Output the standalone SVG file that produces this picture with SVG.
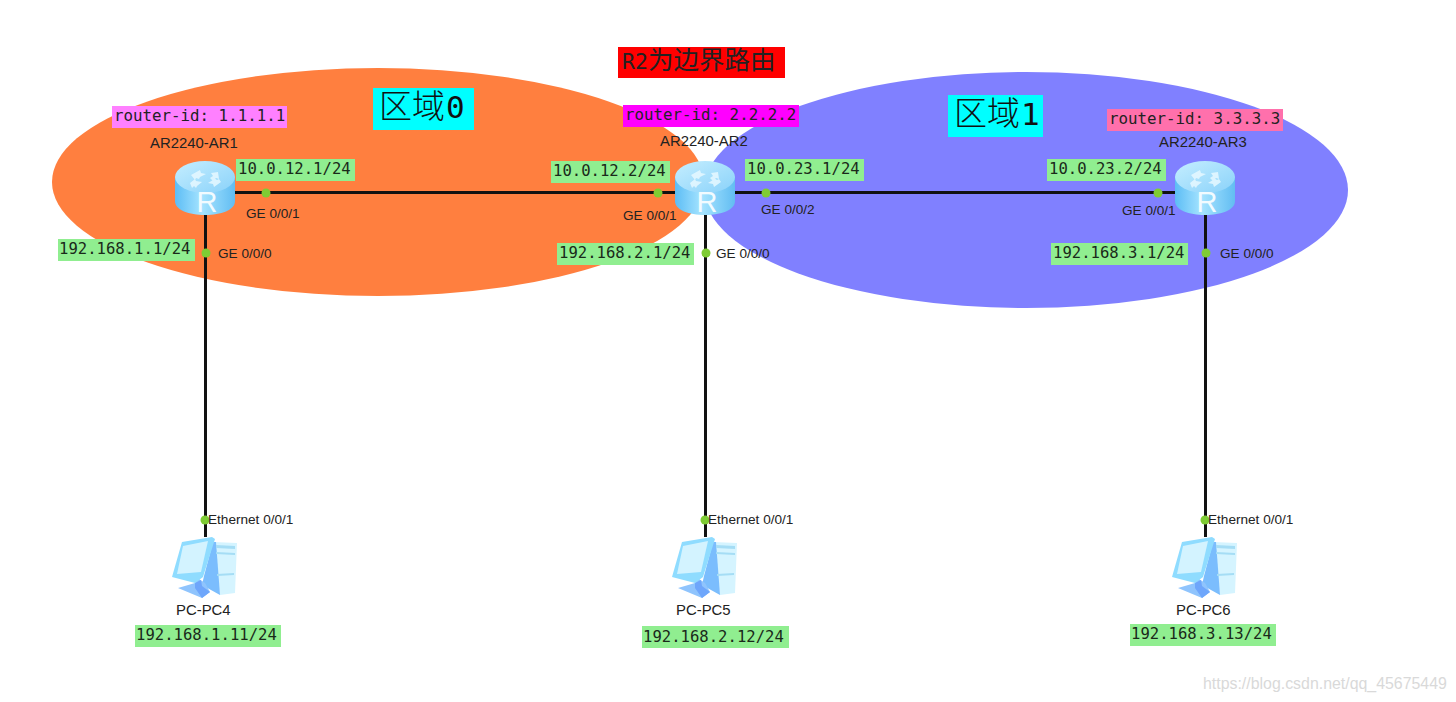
<svg xmlns="http://www.w3.org/2000/svg" width="1456" height="702" viewBox="0 0 1456 702">
<style>
text{font-family:"Liberation Sans",Arial,sans-serif;font-size:13.6px;fill:#222}
.n{font-size:14.9px}
.m{font-family:"DejaVu Sans Mono","Liberation Mono",monospace;font-size:15.6px;fill:#1a2a1a}
.m2{font-family:"DejaVu Sans Mono","Liberation Mono",monospace;font-size:15.8px;fill:#222}
.g{fill:#90EE90}
.lnk{stroke:#111;stroke-width:3;fill:none}
.dot{fill:#7FCC33}
.zone{font-family:"Noto Sans CJK SC","DejaVu Sans Mono",sans-serif;font-size:33px;font-weight:300;fill:#111}
.wm{font-size:15.9px;fill:#d9d9d9}
</style>
<defs>
<linearGradient id="rb" x1="0" x2="1" y1="0" y2="0"><stop offset="0" stop-color="#5DBDF5"/><stop offset=".45" stop-color="#A6E4FF"/><stop offset="1" stop-color="#62BDF2"/></linearGradient>
<linearGradient id="rt" x1="0" x2="1" y1="0" y2="1"><stop offset="0" stop-color="#C5EEFF"/><stop offset="1" stop-color="#8AD2FA"/></linearGradient>
<g id="router">
<path d="M-30-14V10C-30 19-16 24 0 24S30 19 30 10V-14Z" fill="url(#rb)"/>
<ellipse cy="-14" rx="30" ry="16" fill="url(#rt)"/>
<path d="M-14-16l9-5 1 3 5 1-6 3-1 2-3-1-1 2zM13-19l1 7-3-1-3 3-3-3 3-2-2-3zM-15-8l5-4 1 2 6 1-5 4-1 2-2-2-2 2zM16-9l-7 5-1-3-5-1 5-3 1-2 3 2 2-1z" fill="#E6F8FF" fill-opacity=".85"/>
<text x="2" y="21" text-anchor="middle" style="font-size:29px;fill:#F2FBFF">R</text>
</g>
<g id="pc">
<path d="M8-27l24 1-2 50-15 2Z" fill="#D5F4FF"/>
<path d="M8-27l3 0 4 53-18-10 2-9Z" fill="#7BBDFD"/>
<path d="M11-24l19 1v3l-19-1zM11-17l19 1v2l-19-1zM12 5l17-1v2l-17 1z" fill="#A5DDF5"/>
<path d="M-27 19L-10 14-9 8 0 14 5 23-3 29Z" fill="#8FC4FD"/>
<path d="M-10 14l0 5 7 10 8-6-8-6-1-6z" fill="#6EA6FB"/>
<path d="M-23-27L7-32 10-30-2 8-10 14-33 8Z" fill="#8FDCFF"/>
<path d="M-22-23L3-28-4 3-28 5Z" fill="#D3F3FF"/>
</g>
</defs>
<rect width="1456" height="702" fill="#fff"/>
<ellipse cx="378" cy="182" rx="326" ry="114" fill="#FF7F3F"/>
<ellipse cx="1026" cy="190" rx="322" ry="118" fill="#8080FF"/>

<g id="connectors">
<path class="lnk" d="M205.500 192.500H1205.500M205.500 192.500V537M705.500 192.500V537M1205.500 192.500V537"/>
<circle class="dot" cx="266" cy="193" r="4.500"/><circle class="dot" cx="658" cy="193" r="4.500"/>
<circle class="dot" cx="766" cy="193" r="4.500"/><circle class="dot" cx="1158" cy="193" r="4.500"/>
<circle class="dot" cx="206" cy="253" r="4.500"/><circle class="dot" cx="706" cy="253" r="4.500"/><circle class="dot" cx="1206" cy="253" r="4.500"/>
<circle class="dot" cx="205" cy="520" r="4.500"/><circle class="dot" cx="705" cy="520" r="4.500"/><circle class="dot" cx="1205" cy="520" r="4.500"/>
</g>

<g id="title"><rect x="618" y="47" width="167" height="31" fill="#FF0000"/><text x="622" y="69" style="font-family:'DejaVu Sans Mono','Noto Sans CJK SC',sans-serif;font-size:21.500px;fill:#222">R2<tspan style="font-family:'Noto Sans CJK SC',sans-serif;font-size:25.500px">为边界路由</tspan></text></g>
<g id="zone0"><rect x="373" y="88" width="101" height="42" fill="#00FFFF"/><text class="zone" x="379" y="118">区域<tspan style="font-family:'DejaVu Sans Mono',monospace;font-size:31px" dx="1">0</tspan></text></g>
<g id="zone1"><rect x="948" y="95" width="95" height="42" fill="#00FFFF"/><text class="zone" x="954" y="125">区域<tspan style="font-family:'DejaVu Sans Mono',monospace;font-size:31px" dx="1">1</tspan></text></g>

<g id="R1">
<use href="#router" x="205" y="191"/>
<text class="n" x="150" y="148">AR2240-AR1</text>
<rect x="112" y="106" width="175" height="22" fill="#FF80FF"/><text class="m2" x="114" y="121">router-id: 1.1.1.1</text>
<rect class="g" x="236" y="159" width="119" height="22"/><text class="m" x="238" y="174">10.0.12.1/24</text>
<text x="246" y="218">GE 0/0/1</text><text x="218" y="258">GE 0/0/0</text>
<rect class="g" x="58" y="239" width="137" height="22"/><text class="m" x="59" y="254">192.168.1.1/24</text>
</g>
<g id="R2">
<use href="#router" x="705" y="191"/>
<text class="n" x="660" y="146">AR2240-AR2</text>
<rect x="623" y="105" width="176" height="22" fill="#FF00FF"/><text class="m2" x="625" y="120">router-id: 2.2.2.2</text>
<rect class="g" x="551" y="161" width="119" height="22"/><text class="m" x="553" y="176">10.0.12.2/24</text>
<rect class="g" x="745" y="159" width="119" height="22"/><text class="m" x="747" y="174">10.0.23.1/24</text>
<text x="623" y="220">GE 0/0/1</text><text x="761" y="214">GE 0/0/2</text><text x="716" y="258">GE 0/0/0</text>
<rect class="g" x="557" y="243" width="137" height="22"/><text class="m" x="559" y="258">192.168.2.1/24</text>
</g>
<g id="R3">
<use href="#router" x="1205" y="191"/>
<text class="n" x="1159" y="147">AR2240-AR3</text>
<rect x="1107" y="109" width="176" height="22" fill="#FF70AC"/><text class="m2" x="1109" y="124">router-id: 3.3.3.3</text>
<rect class="g" x="1047" y="159" width="119" height="22"/><text class="m" x="1049" y="174">10.0.23.2/24</text>
<text x="1122" y="215">GE 0/0/1</text><text x="1220" y="258">GE 0/0/0</text>
<rect class="g" x="1051" y="243" width="137" height="22"/><text class="m" x="1053" y="258">192.168.3.1/24</text>
</g>
<g id="PC4">
<use href="#pc" x="205" y="569"/>
<text x="208" y="524">Ethernet 0/0/1</text><text class="n" x="176" y="615">PC-PC4</text>
<rect class="g" x="135" y="625" width="146" height="22"/><text class="m" x="136" y="640">192.168.1.11/24</text>
</g>
<g id="PC5">
<use href="#pc" x="705" y="569"/>
<text x="708" y="524">Ethernet 0/0/1</text><text class="n" x="676" y="615">PC-PC5</text>
<rect class="g" x="642" y="626" width="147" height="22"/><text class="m" x="643" y="642">192.168.2.12/24</text>
</g>
<g id="PC6">
<use href="#pc" x="1205" y="569"/>
<text x="1208" y="524">Ethernet 0/0/1</text><text class="n" x="1176" y="615">PC-PC6</text>
<rect class="g" x="1130" y="624" width="146" height="22"/><text class="m" x="1131" y="639">192.168.3.13/24</text>
</g>
<text class="wm" x="1203" y="689">https://blog.csdn.net/qq_45675449</text>
</svg>
